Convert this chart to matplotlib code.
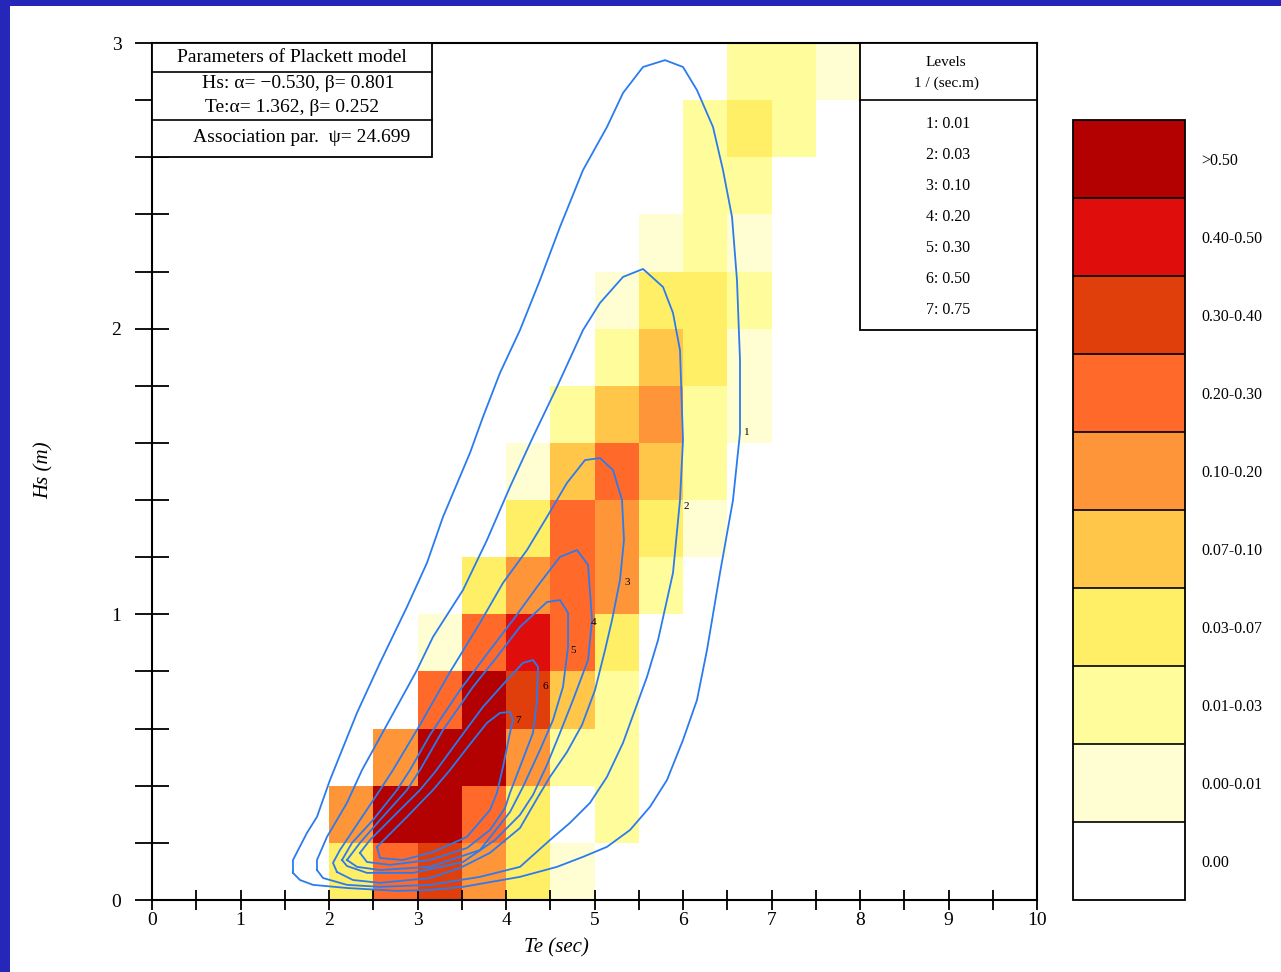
import numpy as np
import matplotlib
matplotlib.use("Agg")
from matplotlib import pyplot as plt
from matplotlib.colors import ListedColormap, BoundaryNorm
from matplotlib.patches import Rectangle

plt.rcParams['font.family'] = ['Liberation Serif', 'DejaVu Serif']

# histogram cells: Te bins of 0.5 s starting at 2.0, Hs bins of 0.2 m starting at 0
te_edges = [2.0, 2.5, 3.0, 3.5, 4.0, 4.5, 5.0, 5.5, 6.0, 6.5, 7.0, 7.5, 8.0]
hs_edges = [0.0, 0.2, 0.4, 0.6, 0.8, 1.0, 1.2, 1.4, 1.6, 1.8, 2.0, 2.2, 2.4, 2.6, 2.8, 3.0]

# density class of each cell (0 = "0.00" ... 9 = ">0.50"), one row per Hs bin (bottom first)
cell_class = [
    [3, 6, 7, 5, 3, 1, 0, 0, 0, 0, 0, 0],
    [5, 9, 9, 6, 3, 0, 2, 0, 0, 0, 0, 0],
    [0, 5, 9, 9, 5, 2, 2, 0, 0, 0, 0, 0],
    [0, 0, 6, 9, 7, 4, 2, 0, 0, 0, 0, 0],
    [0, 0, 1, 6, 8, 6, 3, 0, 0, 0, 0, 0],
    [0, 0, 0, 3, 5, 6, 5, 2, 0, 0, 0, 0],
    [0, 0, 0, 0, 3, 6, 5, 3, 1, 0, 0, 0],
    [0, 0, 0, 0, 1, 4, 6, 4, 2, 0, 0, 0],
    [0, 0, 0, 0, 0, 2, 4, 5, 2, 1, 0, 0],
    [0, 0, 0, 0, 0, 0, 2, 4, 3, 1, 0, 0],
    [0, 0, 0, 0, 0, 0, 1, 3, 3, 2, 0, 0],
    [0, 0, 0, 0, 0, 0, 0, 1, 2, 1, 0, 0],
    [0, 0, 0, 0, 0, 0, 0, 0, 2, 2, 0, 0],
    [0, 0, 0, 0, 0, 0, 0, 0, 2, 3, 2, 0],
    [0, 0, 0, 0, 0, 0, 0, 0, 0, 2, 2, 1],
]

class_labels = ['0.00', '0.00-0.01', '0.01-0.03', '0.03-0.07', '0.07-0.10',
                '0.10-0.20', '0.20-0.30', '0.30-0.40', '0.40-0.50', '>0.50']
class_colors = ['#FFFFFF', '#FFFDD2', '#FFFC9C', '#FFEF66', '#FFC64A',
                '#FF9539', '#FF6A2A', '#E03F0C', '#E00D0D', '#B30000']

# Plackett model contour lines as (Te, Hs)
level_values = [0.01, 0.03, 0.10, 0.20, 0.30, 0.50, 0.75]

level1 = [(1.593, 0.095), (1.593, 0.140), (1.751, 0.235), (1.864, 0.291), (2.011, 0.420),
          (2.316, 0.655), (2.576, 0.830), (2.881, 1.026), (3.107, 1.180), (3.288, 1.341),
          (3.593, 1.565), (3.740, 1.691), (3.932, 1.845), (4.158, 1.995), (4.384, 2.170),
          (4.610, 2.356), (4.870, 2.555), (5.141, 2.706), (5.322, 2.825), (5.548, 2.916),
          (5.797, 2.940), (6.000, 2.916), (6.158, 2.835), (6.339, 2.706), (6.452, 2.555),
          (6.554, 2.391), (6.610, 2.170), (6.644, 1.890), (6.644, 1.635), (6.565, 1.400),
          (6.418, 1.145), (6.271, 0.875), (6.158, 0.700), (6.000, 0.560), (5.819, 0.420),
          (5.627, 0.326), (5.401, 0.245), (5.141, 0.186), (4.870, 0.151), (4.576, 0.116),
          (4.158, 0.081), (3.514, 0.046), (3.141, 0.035), (2.768, 0.032), (2.203, 0.042),
          (1.819, 0.053), (1.672, 0.070)]

level2 = [(1.864, 0.105), (1.864, 0.140), (1.977, 0.221), (2.203, 0.340), (2.373, 0.455),
          (2.746, 0.665), (2.994, 0.805), (3.175, 0.921), (3.514, 1.085), (3.785, 1.260),
          (4.045, 1.446), (4.305, 1.621), (4.576, 1.796), (4.870, 1.995), (5.062, 2.090),
          (5.322, 2.181), (5.548, 2.209), (5.774, 2.146), (5.887, 2.055), (5.966, 1.925),
          (6.000, 1.610), (5.966, 1.400), (5.887, 1.145), (5.718, 0.910), (5.593, 0.781),
          (5.322, 0.550), (5.141, 0.431), (4.949, 0.340), (4.723, 0.270), (4.497, 0.210),
          (4.158, 0.116), (3.706, 0.081), (3.141, 0.053), (2.576, 0.046), (2.203, 0.053),
          (1.932, 0.077)]

level3 = [(2.090, 0.098), (2.045, 0.130), (2.124, 0.175), (2.350, 0.280), (2.576, 0.385),
          (2.723, 0.455), (3.028, 0.613), (3.367, 0.798), (3.706, 0.970), (3.966, 1.110),
          (4.237, 1.225), (4.463, 1.341), (4.689, 1.460), (4.893, 1.540), (5.062, 1.547),
          (5.209, 1.505), (5.311, 1.400), (5.333, 1.260), (5.288, 1.120), (5.198, 0.980),
          (5.119, 0.875), (5.006, 0.735), (4.859, 0.613), (4.689, 0.518), (4.497, 0.431),
          (4.362, 0.361), (4.158, 0.252), (3.819, 0.165), (3.480, 0.112), (3.141, 0.077),
          (2.576, 0.060), (2.271, 0.070)]

level4 = [(2.147, 0.140), (2.260, 0.200), (2.497, 0.280), (2.768, 0.385), (2.915, 0.455),
          (3.141, 0.578), (3.480, 0.735), (3.819, 0.875), (4.079, 0.980), (4.384, 1.110),
          (4.610, 1.201), (4.802, 1.225), (4.927, 1.173), (4.972, 0.980), (4.927, 0.840),
          (4.757, 0.700), (4.610, 0.585), (4.463, 0.473), (4.305, 0.368), (4.158, 0.298),
          (3.876, 0.210), (3.514, 0.133), (2.949, 0.095), (2.429, 0.095), (2.203, 0.119)]

level5 = [(2.203, 0.140), (2.350, 0.200), (2.576, 0.280), (2.881, 0.385), (3.028, 0.455),
          (3.288, 0.595), (3.627, 0.746), (3.898, 0.851), (4.158, 0.956), (4.463, 1.043),
          (4.610, 1.050), (4.701, 1.005), (4.701, 0.886), (4.644, 0.746), (4.531, 0.630),
          (4.384, 0.525), (4.192, 0.396), (4.045, 0.308), (3.706, 0.175), (3.141, 0.116),
          (2.576, 0.105), (2.316, 0.116)]

level6 = [(2.350, 0.165), (2.463, 0.210), (2.723, 0.291), (3.028, 0.385), (3.198, 0.448),
          (3.446, 0.553), (3.740, 0.676), (4.011, 0.770), (4.192, 0.830), (4.305, 0.840),
          (4.362, 0.816), (4.350, 0.700), (4.305, 0.585), (4.158, 0.466), (4.045, 0.375),
          (3.989, 0.322), (3.819, 0.245), (3.559, 0.182), (3.141, 0.140), (2.689, 0.123),
          (2.429, 0.133)]

level7 = [(2.542, 0.186), (2.655, 0.221), (2.881, 0.291), (3.175, 0.385), (3.367, 0.455),
          (3.559, 0.532), (3.785, 0.620), (3.932, 0.655), (4.045, 0.658), (4.079, 0.630),
          (4.045, 0.585), (3.966, 0.466), (3.898, 0.375), (3.819, 0.315), (3.559, 0.221),
          (3.175, 0.168), (2.836, 0.140), (2.576, 0.147)]

level_lines = [level1, level2, level3, level4, level5, level6, level7]
# where the little level numbers sit
label_te = [6.718, 6.034, 5.367, 4.994, 4.757, 4.441, 4.136]
label_hs = [1.638, 1.379, 1.113, 0.973, 0.875, 0.746, 0.630]


fig = plt.figure(figsize=(12.81, 9.72), dpi=100)
fig.patch.set_facecolor('#2626B8')
fig.add_artist(Rectangle((10 / 1281, 0), 1, 1 - 6 / 972, transform=fig.transFigure,
                         facecolor='white', edgecolor='none', zorder=-10))

ax = fig.add_axes([152 / 1281, 72 / 972, 885 / 1281, 857 / 972])

cmap = ListedColormap(class_colors)
norm = BoundaryNorm(np.arange(-0.5, 10.5, 1.0), cmap.N)
mesh = ax.pcolormesh(te_edges, hs_edges, np.array(cell_class), cmap=cmap, norm=norm, zorder=1)

for pts, num, tx, ty in zip(level_lines, range(1, 8), label_te, label_hs):
    xs = [p[0] for p in pts] + [pts[0][0]]
    ys = [p[1] for p in pts] + [pts[0][1]]
    ax.plot(xs, ys, color='#2B7BF0', lw=1.3, zorder=3)
    ax.text(tx, ty, str(num), fontsize=8, ha='center', va='center', zorder=4)

ax.set_xlim(0, 10)
ax.set_ylim(0, 3)
ax.set_xticks(range(0, 11))
ax.set_xticks(np.arange(0.5, 10, 1.0), minor=True)
ax.set_yticks([0, 1, 2, 3])
ax.set_yticks([0.2, 0.4, 0.6, 0.8, 1.2, 1.4, 1.6, 1.8, 2.2, 2.4, 2.6, 2.8], minor=True)
ax.tick_params(axis='x', which='both', direction='inout', length=15, width=1.3,
               labelsize=14, pad=1)
ax.tick_params(axis='y', which='both', direction='inout', length=24, width=1.3,
               labelsize=14, pad=10)
for s in ax.spines.values():
    s.set_linewidth(1.5)

ax.set_xlabel('Te (sec)', fontsize=15, style='italic')
ax.xaxis.set_label_coords(0.4565, -0.045)
ax.set_ylabel('Hs (m)', fontsize=15, style='italic')
ax.yaxis.set_label_coords(-0.111, 0.502)

# parameter table (axes fraction coordinates)
ax.add_patch(Rectangle((0, 0.867), 0.3164, 0.133, transform=ax.transAxes,
                       facecolor='white', edgecolor='black', lw=1.3, zorder=5))
ax.plot([0, 0.3164], [0.9662, 0.9662], transform=ax.transAxes, color='black', lw=1.2, zorder=6)
ax.plot([0, 0.3164], [0.9101, 0.9101], transform=ax.transAxes, color='black', lw=1.2, zorder=6)
ax.text(0.158, 0.9825, 'Parameters of Plackett model', transform=ax.transAxes,
        ha='center', va='center', fontsize=14, zorder=7)
ax.text(0.165, 0.9522, 'Hs: α= −0.530, β= 0.801', transform=ax.transAxes,
        ha='center', va='center', fontsize=14, zorder=7)
ax.text(0.158, 0.9253, 'Te:α= 1.362, β= 0.252', transform=ax.transAxes,
        ha='center', va='center', fontsize=14, zorder=7)
ax.text(0.1695, 0.8903, 'Association par.  ψ= 24.699', transform=ax.transAxes,
        ha='center', va='center', fontsize=14, zorder=7)

# levels table
ax.add_patch(Rectangle((0.800, 0.6651), 0.200, 0.3349, transform=ax.transAxes,
                       facecolor='white', edgecolor='black', lw=1.3, zorder=5))
ax.plot([0.800, 1.0], [0.9335, 0.9335], transform=ax.transAxes, color='black', lw=1.2, zorder=6)
ax.text(0.8972, 0.9767, 'Levels', transform=ax.transAxes, ha='center', va='center',
        fontsize=11, zorder=7)
ax.text(0.8980, 0.9533, '1 / (sec.m)', transform=ax.transAxes, ha='center', va='center',
        fontsize=11, zorder=7)
for i, v in enumerate(level_values):
    ax.text(0.8994, 0.9055 - i * 0.03618, '%d: %.2f' % (i + 1, v), transform=ax.transAxes,
            ha='center', va='center', fontsize=11.5, zorder=7)

# colour key
cax = fig.add_axes([1073 / 1281, 72 / 972, 112 / 1281, 780 / 972])
cb = fig.colorbar(mesh, cax=cax, ticks=range(10), drawedges=True)
cb.ax.minorticks_off()
cb.ax.set_yticklabels(class_labels)
cb.ax.tick_params(which='both', length=0, pad=12, labelsize=11.5)
cb.outline.set_linewidth(1.3)
cb.dividers.set_linewidth(1.2)
cb.dividers.set_color('black')

fig.savefig('out.png', dpi=100, facecolor=fig.get_facecolor())
